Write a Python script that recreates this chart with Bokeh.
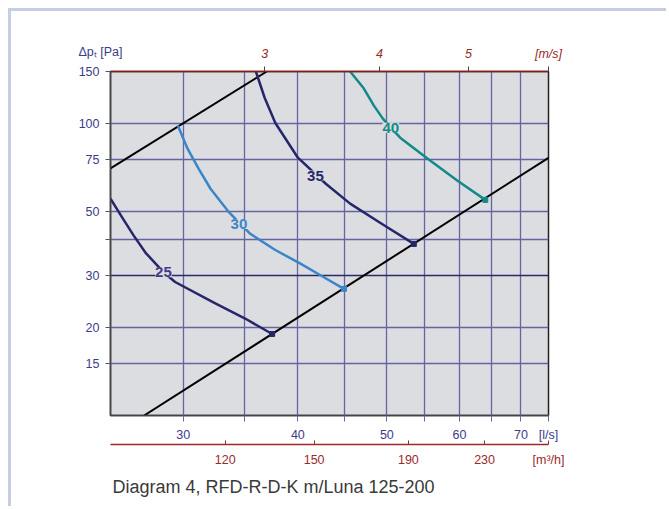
import math
from bokeh.plotting import figure
from bokeh.models import (Range1d, LogAxis, LogScale, FixedTicker, Grid,
                          LabelSet, ColumnDataSource, Title)
from bokeh.core.properties import value
from bokeh.embed import file_html
from bokeh.resources import INLINE

# ---------------- data ----------------
q_range = (25, 75)          # l/s
p_range = (10, 150)         # Pa
duct_diameter = 0.125       # m (velocity scale)

p_ticks = [15, 20, 30, 40, 50, 75, 100, 150]
p_tick_labels = ["15", "20", "30", "", "50", "75", "100", "150"]
q_ticks = [30, 35, 40, 45, 50, 55, 60, 65, 70]
q_tick_labels = ["30", "", "40", "", "50", "", "60", "", "70"]
v_ticks = [3, 4, 5]
v_tick_labels = ["3", "4", "5"]
m3h_ticks = [120, 150, 190, 230]
m3h_tick_labels = ["120", "150", "190", "230"]

y_title = "Δpₜ [Pa]"
q_unit = "[l/s]"
v_unit = "[m/s]"
m3h_unit = "[m³/h]"

# sound power level curves (dB(A))
q25 = [25.0, 25.8, 26.5, 27.3, 28.55, 29.4, 32.4, 35.0, 37.5]
p25 = [55.1, 47.0, 41.2, 36.0, 30.9, 28.6, 24.3, 21.5, 19.0]
q30 = [29.6, 30.33, 31.18, 32.13, 33.6, 35.5, 37.8, 40.3, 42.6, 44.9]
p30 = [98.0, 81.7, 69.8, 59.6, 49.8, 41.8, 36.8, 33.0, 29.8, 27.1]
q35 = [36.0, 36.8, 37.8, 40.0, 42.9, 45.6, 49.5, 53.5]
p35 = [150, 122, 100, 76.1, 62.0, 53.0, 45.0, 38.6]
q40 = [45.6, 47.2, 48.4, 49.5, 50.5, 51.7, 55.4, 59.7, 64.0]
p40 = [150, 131.2, 114.7, 103.5, 96.4, 89.1, 75.5, 63.5, 54.6]

# operating limit lines
q_upper = [25.0, 37.0]
p_upper = [70.0, 150.0]
q_lower = [27.2, 75.0]
p_lower = [10.0, 76.0]

# curve labels
lab_q = [28.55, 34.5, 41.8, 50.5]
lab_p = [30.9, 45.2, 66.1, 96.4]
lab_t = ["25", "30", "35", "40"]

caption = "Diagram 4, RFD-R-D-K m/Luna 125-200"

# ---------------- styling ----------------
BG = "#dcdde0"
NAVY = "#26266a"
LBLUE = "#3b86c9"
TEAL = "#138a8a"
TXT_NAVY = "#3c3c8a"
RED = "#9a2a2a"
GRID = "#6464a2"
FONT = "Liberation Sans"

area = math.pi * (duct_diameter / 2) ** 2
v_range = (q_range[0] / 1000 / area, q_range[1] / 1000 / area)
m3h_range = (q_range[0] * 3.6, q_range[1] * 3.6)

p = figure(width=658, height=498, x_axis_type="log", y_axis_type="log",
           x_range=Range1d(*q_range), y_range=Range1d(*p_range),
           output_backend="svg", toolbar_location=None,
           min_border_left=99, min_border_top=60, min_border_right=121,
           min_border_bottom=94, background_fill_color=BG,
           border_fill_color="white", outline_line_color="#222222",
           outline_line_width=1.5)
p.styles = {"margin-left": "8px", "margin-top": "8px",
            "border-left": "3px solid #c5cee3", "border-top": "3px solid #c5cee3"}

p.extra_x_ranges = {"v": Range1d(*v_range), "m3h": Range1d(*m3h_range)}
p.extra_x_scales = {"v": LogScale(), "m3h": LogScale()}

# grids
p.xgrid.ticker = FixedTicker(ticks=q_ticks)
p.ygrid.ticker = FixedTicker(ticks=[t for t in p_ticks if t not in (30, 150)])
for g in (p.xgrid, p.ygrid):
    g.grid_line_color = GRID
    g.grid_line_width = 1.3
g30 = Grid(dimension=1, ticker=FixedTicker(ticks=[30]), grid_line_color="#2a2a6a",
           grid_line_width=1.4)
p.add_layout(g30)

def style_axis(ax, color, tick_color, tick_out, tick_in, standoff, italic=False):
    ax.minor_tick_line_color = None
    ax.major_tick_out = tick_out
    ax.major_tick_in = tick_in
    ax.major_tick_line_color = tick_color
    ax.major_label_standoff = standoff
    ax.major_label_text_color = color
    ax.major_label_text_font = FONT
    ax.major_label_text_font_size = "12.5px"
    if italic:
        ax.major_label_text_font_style = "italic"

# left axis
ya = p.yaxis[0]
ya.ticker = FixedTicker(ticks=p_ticks)
ya.major_label_overrides = dict(zip(p_ticks, p_tick_labels))
style_axis(ya, TXT_NAVY, "#555577", 5, 0, 6)
ya.axis_line_color = "#444444"
ya.axis_line_width = 1.5

# bottom axis (l/s) – unit shown at range end
xa = p.xaxis[0]
xa.ticker = FixedTicker(ticks=q_ticks + [q_range[1]])
xa.major_label_overrides = dict(zip(q_ticks + [q_range[1]], q_tick_labels + [q_unit]))
style_axis(xa, TXT_NAVY, "#6a6aa6", 6, 0, 6)
xa.axis_line_color = "#444444"
xa.axis_line_width = 1.5

# bottom axis 2 (m3/h)
xm = LogAxis(x_range_name="m3h", ticker=FixedTicker(ticks=m3h_ticks + [m3h_range[1]]))
xm.major_label_overrides = dict(zip(m3h_ticks + [m3h_range[1]], m3h_tick_labels + [m3h_unit]))
style_axis(xm, RED, RED, 0, 4, 8)
xm.axis_line_color = RED
xm.axis_line_width = 1.5
p.add_layout(xm, "below")

# top axis (m/s)
xv = LogAxis(x_range_name="v", ticker=FixedTicker(ticks=v_ticks + [v_range[1]]))
xv.major_label_overrides = dict(zip(v_ticks + [v_range[1]], v_tick_labels + [v_unit]))
style_axis(xv, RED, "#444444", 5, 0, 6, italic=True)
xv.axis_line_color = "#8b1a1a"
xv.axis_line_width = 1.5
p.add_layout(xv, "above")

# y-axis title (top-left)
p.add_layout(Title(text=y_title, align="left", offset=-32, text_font=FONT,
                   text_font_size="12.5px", text_font_style="normal",
                   text_color=TXT_NAVY, standoff=-31, vertical_align="bottom"), "above")

# caption
p.add_layout(Title(text=caption, align="left", offset=2, text_font=FONT,
                   text_font_size="18px", text_font_style="normal",
                   text_color="#3a3a3a", standoff=10), "below")

# limit lines
p.line(q_upper, p_upper, line_color="black", line_width=2)
p.line(q_lower, p_lower, line_color="black", line_width=2)

# curves
for qs, ps, col in ((q25, p25, NAVY), (q30, p30, LBLUE), (q35, p35, NAVY), (q40, p40, TEAL)):
    p.line(qs, ps, line_color=col, line_width=2.5, line_join="round")
    p.scatter([qs[-1]], [ps[-1]], marker="square", size=5, color=col)

src = ColumnDataSource(dict(q=lab_q, p=lab_p, t=lab_t,
                            c=["#453a8a", LBLUE, NAVY, TEAL]))
p.add_layout(LabelSet(x="q", y="p", text="t", source=src, text_align="center",
                      text_baseline="middle", text_color="c", text_font=value(FONT),
                      text_font_style="bold", text_font_size="15px",
                      background_fill_color=BG))

open("out.html", "w").write(file_html(p, INLINE))
